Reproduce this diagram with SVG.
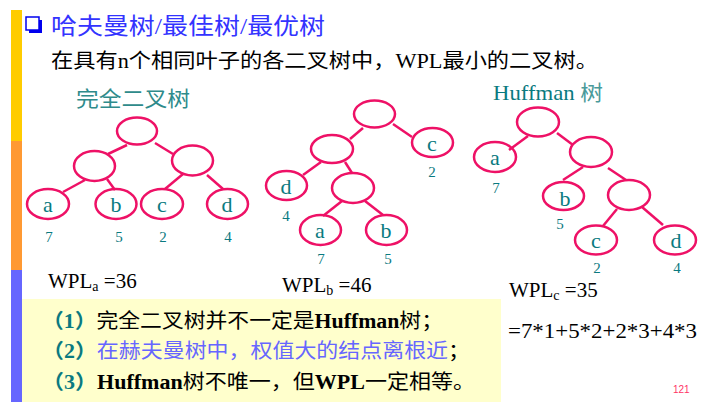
<svg xmlns="http://www.w3.org/2000/svg" width="727" height="412" viewBox="0 0 727 412">
<style>
.nd{fill:none;stroke:#EE1166;stroke-width:2.5}
.ed{stroke:#EE1166;stroke-width:2.5;fill:none}
.lbl{font-family:"Liberation Serif","Noto Sans CJK SC",serif;font-size:22px;fill:#0A7A80;text-anchor:middle}
.w{font-family:"Liberation Serif",serif;font-size:15px;fill:#0A7A80;text-anchor:middle}
.cn{font-family:"Liberation Serif","Noto Sans CJK SC",serif}
.wpl{font-family:"Liberation Serif",serif;font-size:21px;fill:#000}
.pt{font-family:"Liberation Serif","Noto Sans CJK SC",serif;font-size:20px;fill:#000}
.num{fill:#0A7A80;font-weight:bold}
.b{font-weight:bold}
</style>
<rect width="727" height="412" fill="#fff"/>
<g id="sidebar">
<rect x="11" y="10" width="11" height="131" fill="#FFCC00"/>
<rect x="11" y="141" width="11" height="129" fill="#FF9933"/>
<rect x="11" y="270" width="11" height="132" fill="#6666FF"/>
</g>
<g id="summary-box"><rect x="22" y="299" width="479" height="103" fill="#FFFFCC"/></g>
<g id="title">
<rect x="29" y="20" width="13" height="13" fill="#0000EE"/>
<rect x="26" y="17" width="13" height="13" fill="#fff" stroke="#0000EE" stroke-width="1.5"/>
<text x="51" y="34" class="cn" font-size="23" fill="#3333FF" textLength="274" lengthAdjust="spacingAndGlyphs">哈夫曼树/最佳树/最优树</text>
<text x="51" y="68" class="cn" font-size="20" fill="#000" textLength="547" lengthAdjust="spacingAndGlyphs">在具有n个相同叶子的各二叉树中，WPL最小的二叉树。</text>
<text x="76" y="106" class="cn" font-size="21" fill="#2E8B8B" textLength="114" lengthAdjust="spacingAndGlyphs">完全二叉树</text>
<text x="493" y="100" class="cn" font-size="21" fill="#0A7A80" textLength="110" lengthAdjust="spacingAndGlyphs">Huffman <tspan fill="#4A9A9A">树</tspan></text>
</g>
<g id="connectors">
<line class="ed" x1="127" y1="145" x2="108" y2="154"/>
<line class="ed" x1="155" y1="143" x2="173" y2="154"/>
<line class="ed" x1="85" y1="180" x2="63" y2="192"/>
<line class="ed" x1="107" y1="179" x2="115" y2="190"/>
<line class="ed" x1="183" y1="174" x2="165" y2="189"/>
<line class="ed" x1="207" y1="175" x2="223" y2="189"/>
<line class="ed" x1="363" y1="128" x2="350" y2="139"/>
<line class="ed" x1="393" y1="124" x2="412" y2="137"/>
<line class="ed" x1="321" y1="162" x2="303" y2="175"/>
<line class="ed" x1="345" y1="162" x2="352" y2="173"/>
<line class="ed" x1="342" y1="201" x2="323" y2="216"/>
<line class="ed" x1="365" y1="201" x2="383" y2="215"/>
<line class="ed" x1="528" y1="136" x2="509" y2="150"/>
<line class="ed" x1="557" y1="133" x2="573" y2="145"/>
<line class="ed" x1="583" y1="167" x2="563" y2="180"/>
<line class="ed" x1="608" y1="168" x2="626" y2="180"/>
<line class="ed" x1="617" y1="209" x2="603" y2="226"/>
<line class="ed" x1="642" y1="207" x2="663" y2="225"/>
</g>
<g id="treeA">
<g id="a-root"><ellipse class="nd" cx="137" cy="131" rx="20" ry="13.5"/></g>
<g id="a-l"><ellipse class="nd" cx="94.5" cy="166" rx="20.5" ry="15"/></g>
<g id="a-r"><ellipse class="nd" cx="192.5" cy="160.5" rx="20.5" ry="15"/></g>
<g id="a-a"><ellipse class="nd" cx="48" cy="204" rx="21" ry="15"/><text class="lbl" x="48" y="212">a</text><text class="w" x="49" y="242">7</text></g>
<g id="a-b"><ellipse class="nd" cx="116" cy="204" rx="20.5" ry="15"/><text class="lbl" x="116" y="212">b</text><text class="w" x="119" y="242">5</text></g>
<g id="a-c"><ellipse class="nd" cx="162" cy="204" rx="21" ry="15"/><text class="lbl" x="162" y="212">c</text><text class="w" x="163" y="242">2</text></g>
<g id="a-d"><ellipse class="nd" cx="227.5" cy="204" rx="20.5" ry="15"/><text class="lbl" x="227" y="212">d</text><text class="w" x="228" y="242">4</text></g>
</g>
<g id="treeB">
<g id="b-root"><ellipse class="nd" cx="374.5" cy="114" rx="20.5" ry="13.5"/></g>
<g id="b-c"><ellipse class="nd" cx="432.5" cy="142.5" rx="20.5" ry="14.5"/><text class="lbl" x="432" y="151">c</text><text class="w" x="432" y="177">2</text></g>
<g id="b-l"><ellipse class="nd" cx="332" cy="149" rx="21" ry="14"/></g>
<g id="b-d"><ellipse class="nd" cx="286.5" cy="185.5" rx="20.5" ry="14.5"/><text class="lbl" x="286" y="194">d</text><text class="w" x="286" y="221">4</text></g>
<g id="b-m"><ellipse class="nd" cx="353" cy="188" rx="21" ry="15"/></g>
<g id="b-a"><ellipse class="nd" cx="320.5" cy="230" rx="20.5" ry="15"/><text class="lbl" x="320" y="238">a</text><text class="w" x="321" y="264">7</text></g>
<g id="b-b"><ellipse class="nd" cx="386.5" cy="230" rx="20.5" ry="15"/><text class="lbl" x="386" y="238">b</text><text class="w" x="388" y="264">5</text></g>
</g>
<g id="treeC">
<g id="c-root"><ellipse class="nd" cx="538" cy="122" rx="21" ry="14.5"/></g>
<g id="c-a"><ellipse class="nd" cx="495" cy="157" rx="21" ry="15"/><text class="lbl" x="495" y="165">a</text><text class="w" x="496" y="193">7</text></g>
<g id="c-i1"><ellipse class="nd" cx="591" cy="152" rx="21" ry="15"/></g>
<g id="c-b"><ellipse class="nd" cx="563.5" cy="196" rx="20.5" ry="14"/><text class="lbl" x="565" y="206">b</text><text class="w" x="560" y="229">5</text></g>
<g id="c-i2"><ellipse class="nd" cx="629" cy="195" rx="21" ry="15"/></g>
<g id="c-c"><ellipse class="nd" cx="596" cy="240" rx="21" ry="14.5"/><text class="lbl" x="596" y="248">c</text><text class="w" x="597" y="273">2</text></g>
<g id="c-d"><ellipse class="nd" cx="675" cy="240" rx="21" ry="14.5"/><text class="lbl" x="676" y="248">d</text><text class="w" x="677" y="273">4</text></g>
</g>
<g id="wpl">
<text class="wpl" x="48" y="288">WPL<tspan font-size="14" dy="3">a</tspan><tspan dy="-3"> =36</tspan></text>
<text class="wpl" x="282" y="292">WPL<tspan font-size="14" dy="3">b</tspan><tspan dy="-3"> =46</tspan></text>
<text class="wpl" x="509" y="297">WPL<tspan font-size="14" dy="3">c</tspan><tspan dy="-3"> =35</tspan></text>
<text class="wpl" x="508" y="338" font-size="22" textLength="189" lengthAdjust="spacingAndGlyphs">=7*1+5*2+2*3+4*3</text>
</g>
<g id="notes">
<text class="pt" x="42" y="328" textLength="401" lengthAdjust="spacingAndGlyphs"><tspan class="num">（1）</tspan>完全二叉树并不一定是<tspan class="b">Huffman</tspan>树；</text>
<text class="pt" x="42" y="358" textLength="428" lengthAdjust="spacingAndGlyphs"><tspan class="num">（2）</tspan><tspan fill="#6666FF">在赫夫曼树中，权值大的结点离根近</tspan>；</text>
<text class="pt" x="42" y="389" textLength="433" lengthAdjust="spacingAndGlyphs"><tspan class="num">（3）</tspan><tspan class="b">Huffman</tspan>树不唯一，但<tspan class="b">WPL</tspan>一定相等。</text>
</g>
<text x="673" y="393" font-family="Liberation Sans,sans-serif" font-size="10" fill="#FF3366">121</text>
</svg>
